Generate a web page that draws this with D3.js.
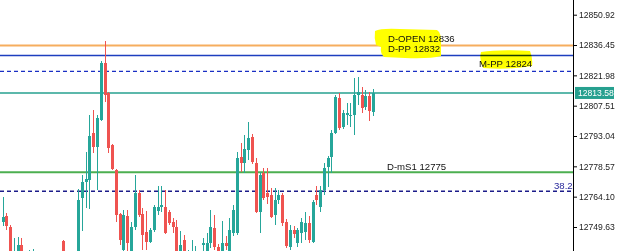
<!DOCTYPE html>
<html>
<head>
<meta charset="utf-8">
<script src="https://cdn.jsdelivr.net/npm/d3@7"></script>
<style>
  body { margin: 0; background: #fff; }
  svg { display: block; }
  text { font-family: "Liberation Sans", Arial, sans-serif; }
</style>
</head>
<body>
<div class="chart"></div>
<script>
// candles, oldest first
var open = [12752.2,12755.0,12749.8,12732.9,12734.8,12741.0,12735.8,12732.9,12737.2,12736.5,
  12731.5,12734.5,12729.0,12725.0,12730.0,12733.5,12742.9,12734.8,12728.0,12732.0,
  12735.0,12763.5,12770.9,12772.1,12794.5,12787.8,12800.7,12828.0,12813.5,12788.8,
  12776.8,12755.8,12738.7,12754.9,12736.3,12749.6,12765.9,12755.8,12747.2,12742.6,
  12748.2,12757.3,12759.2,12759.2,12756.8,12752.0,12749.6,12732.9,12743.4,12731.0,
  12732.9,12732.9,12736.3,12741.0,12734.8,12742.0,12749.2,12740.1,12735.8,12742.0,
  12734.8,12746.8,12746.8,12783.0,12780.2,12786.4,12792.6,12780.2,12756.8,12775.4,
  12765.9,12764.9,12755.4,12762.5,12764.9,12752.0,12740.1,12748.2,12742.0,12746.8,
  12747.2,12751.5,12742.5,12764.9,12759.2,12767.3,12778.3,12783.0,12794.5,12811.2,
  12797.3,12803.3,12802.8,12803.1,12812.6,12812.6,12806.9,12812.1,12804.5];
var high = [12764.1,12756.3,12750.6,12744.4,12745.0,12744.4,12737.7,12738.7,12739.1,12737.5,
  12736.0,12736.5,12731.0,12732.0,12736.0,12737.5,12743.4,12736.0,12734.0,12737.0,
  12767.8,12774.4,12785.4,12803.1,12805.5,12803.1,12829.0,12838.4,12814.0,12789.2,
  12777.3,12756.3,12757.7,12757.7,12752.0,12774.4,12767.3,12758.7,12757.3,12749.2,
  12760.1,12769.2,12769.2,12767.3,12757.7,12753.9,12753.0,12747.7,12745.8,12738.7,
  12743.4,12740.6,12737.7,12744.4,12746.8,12757.7,12755.4,12741.5,12752.5,12745.3,
  12753.9,12760.1,12785.6,12789.7,12793.5,12799.9,12794.0,12782.5,12775.9,12777.8,
  12777.8,12768.2,12768.2,12767.3,12765.9,12753.5,12750.6,12750.1,12749.2,12753.9,
  12756.8,12754.9,12762.5,12769.2,12769.2,12780.2,12783.5,12795.9,12812.6,12813.5,
  12805.5,12808.8,12808.8,12820.7,12821.2,12816.6,12815.0,12814.0,12815.5];
var low = [12750.1,12748.2,12733.9,12731.5,12732.9,12733.9,12731.0,12731.0,12735.8,12730.0,
  12728.0,12727.5,12723.0,12722.0,12728.5,12730.0,12732.9,12726.0,12725.0,12729.0,
  12733.0,12747.7,12758.7,12758.2,12784.9,12767.3,12800.2,12809.4,12784.9,12776.8,
  12752.0,12741.0,12737.7,12738.2,12734.8,12748.2,12754.4,12738.7,12738.7,12742.0,
  12747.2,12755.4,12756.8,12746.3,12750.6,12746.8,12732.9,12731.0,12731.5,12729.1,
  12731.0,12731.0,12730.1,12737.7,12732.9,12739.6,12738.7,12733.9,12733.9,12738.7,
  12732.9,12745.3,12745.8,12775.9,12775.4,12781.6,12779.7,12756.3,12746.8,12762.5,
  12760.6,12753.9,12750.6,12760.6,12750.1,12739.6,12738.7,12744.4,12740.1,12742.0,
  12743.4,12742.0,12742.0,12760.1,12756.8,12764.9,12768.7,12775.4,12794.0,12795.9,
  12796.4,12798.3,12797.3,12793.5,12807.8,12804.0,12805.5,12800.2,12802.6];
var close = [12754.6,12750.1,12735.8,12737.7,12741.0,12736.3,12732.9,12736.8,12738.2,12731.5,
  12734.5,12729.0,12725.0,12730.0,12733.5,12736.5,12734.8,12728.0,12732.0,12735.0,
  12762.5,12771.1,12772.5,12793.0,12787.8,12801.6,12828.0,12812.6,12787.3,12777.3,
  12755.4,12743.4,12755.4,12742.0,12749.6,12765.9,12755.4,12745.8,12742.5,12748.2,
  12759.2,12759.2,12759.9,12746.8,12751.5,12749.6,12734.8,12741.0,12733.9,12735.8,
  12737.7,12736.8,12732.9,12742.0,12742.0,12749.6,12740.1,12735.8,12742.0,12740.6,
  12748.2,12757.7,12782.5,12780.3,12786.8,12792.1,12780.6,12756.8,12774.4,12763.5,
  12763.9,12754.4,12762.5,12764.9,12751.5,12740.6,12748.2,12746.3,12748.2,12752.0,
  12751.5,12743.4,12761.6,12762.5,12767.3,12777.8,12782.5,12794.5,12811.7,12796.9,
  12804.0,12803.8,12803.3,12812.6,12814.0,12806.4,12812.1,12805.0,12813.58];

// horizontal levels
var levelNames = ["D-OPEN", "D-PP", "M-PP", "D-mS1", "fib38.2", "D-S1"];
var levelValues = [12836.2, 12831.5, 12823.9, 12775.7, 12766.7, 12732.9];
var levelLabels = ["D-OPEN 12836", "D-PP 12832", "M-PP 12824", "D-mS1 12775", "38.2", "D-S1 12733"];
var lastPrice = 12813.58;

var tickValues = [12850.92, 12836.45, 12821.98, 12807.51, 12793.04, 12778.57, 12764.10, 12749.63];

var width = 625, height = 251;
var plotRight = 573;
var up = "#26a69a", down = "#ef5350";

var svg = d3.select(".chart").append("svg")
  .attr("width", width)
  .attr("height", height);

var x = d3.scaleLinear().domain([0, open.length - 1]).range([2.5, 373]);
var y = d3.scaleLinear().domain([12738.18, 12857.93]).range([height, 0]);

var candles = open.map(function(o, i){
  return {i: i, o: o, h: high[i], l: low[i], c: close[i]};
});

// level lines
function hline(v, color, w, dash){
  svg.append("line")
    .attr("x1", 0).attr("x2", plotRight)
    .attr("y1", y(v)).attr("y2", y(v))
    .attr("stroke", color)
    .attr("stroke-width", w)
    .attr("stroke-dasharray", dash || null);
}
hline(levelValues[0], "#f6ad5e", 2);
hline(levelValues[1], "#1d3fbf", 1.5);
hline(levelValues[2], "#1a2fc4", 1.3, "4,3");
hline(lastPrice, "#26a08f", 1.5);
hline(levelValues[3], "#4caf50", 2);
hline(levelValues[4], "#1c1c8a", 1.5, "4,3");

// candles
var g = svg.append("g").attr("shape-rendering", "crispEdges");
g.selectAll("line.wick").data(candles).enter()
  .append("line").attr("class", "wick")
  .attr("x1", function(d){ return Math.round(x(d.i)) + 0.5; })
  .attr("x2", function(d){ return Math.round(x(d.i)) + 0.5; })
  .attr("y1", function(d){ return y(d.h); })
  .attr("y2", function(d){ return y(d.l); })
  .attr("stroke", function(d){ return d.c >= d.o ? up : down; })
  .attr("stroke-width", 1);
g.selectAll("rect.body").data(candles).enter()
  .append("rect").attr("class", "body")
  .attr("x", function(d){ return Math.round(x(d.i)) - 1; })
  .attr("width", 3)
  .attr("y", function(d){ return y(Math.max(d.o, d.c)); })
  .attr("height", function(d){ return Math.max(1, Math.abs(y(d.o) - y(d.c))); })
  .attr("fill", function(d){ return d.c >= d.o ? up : down; });

// highlighter marks
svg.append("path")
  .attr("d", "M375,31 Q381,28 400,29 L437,30 Q442,33 441,45 L441,56 Q430,59 405,58 L384,57 Q380,53 381,47 L376,45 Q374,38 375,31 Z")
  .attr("fill", "#ffff00");
svg.append("path")
  .attr("d", "M481,52 Q500,49 530,51 Q533,58 532,66 Q510,70 483,68 Q479,60 481,52 Z")
  .attr("fill", "#ffff00")
  .style("mix-blend-mode", "multiply");

// level labels
var labelPos = [[388, 42.2], [388, 52.2], [479, 66.7], [387, 169.5], [554, 188.5], [388, 258]];
svg.selectAll("text.lvl").data(levelLabels).enter()
  .append("text").attr("class", "lvl")
  .attr("x", function(d, i){ return labelPos[i][0]; })
  .attr("y", function(d, i){ return labelPos[i][1]; })
  .attr("font-size", "9.6px")
  .attr("fill", function(d, i){ return i == 4 ? "#2a2a9c" : "#111"; })
  .text(function(d){ return d; });

// price axis
var axis = d3.axisRight(y)
  .tickValues(tickValues)
  .tickSize(4)
  .tickPadding(2)
  .tickFormat(d3.format(".2f"));
var ax = svg.append("g")
  .attr("transform", "translate(" + plotRight + ",0)")
  .call(axis);
ax.select(".domain").attr("stroke", "#000").attr("d", "M0.5,0V" + height);
ax.selectAll(".tick line").attr("stroke", "#000");
ax.selectAll(".tick text")
  .attr("font-family", "Liberation Sans, Arial, sans-serif")
  .attr("font-size", "8.6px")
  .attr("fill", "#222");

// last price tag
svg.append("rect")
  .attr("x", plotRight + 2).attr("y", y(lastPrice) - 6)
  .attr("width", 39).attr("height", 12)
  .attr("fill", "#26a08f");
svg.append("text")
  .attr("x", plotRight + 5).attr("y", y(lastPrice) + 3)
  .attr("font-size", "8.6px")
  .attr("fill", "#fff")
  .text(d3.format(".2f")(lastPrice));
</script>
</body>
</html>
